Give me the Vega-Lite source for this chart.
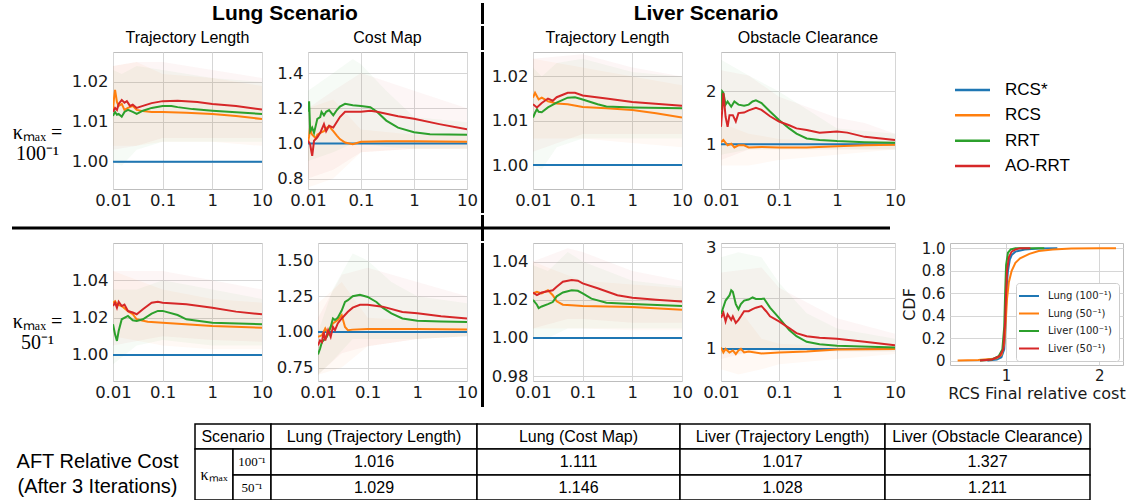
{
"$schema":"https://vega.github.io/schema/vega-lite/v6.json",
"padding":0,
"background":"white",
"config":{
 "view":{"stroke":null},
 "axis":{"labelFont":"DejaVu Sans","labelFontSize":16.5,"labelColor":"#1a1a1a","ticks":false,"domain":false,"gridColor":"#d6d6d6","gridWidth":1,"labelFlush":false,"labelOverlap":false,"labelBound":false},
 "axisX":{"labelPadding":3},
 "axisY":{"labelPadding":5}
},
"datasets":{
"lines":[
{"p":1,"s":"RCS*","x":0.01,"y":1},{"p":1,"s":"RCS*","x":10,"y":1},
{"p":1,"s":"RCS","x":0.01,"y":1.013},{"p":1,"s":"RCS","x":0.0105,"y":1.016},{"p":1,"s":"RCS","x":0.011,"y":1.018},{"p":1,"s":"RCS","x":0.012,"y":1.015},{"p":1,"s":"RCS","x":0.013,"y":1.014},{"p":1,"s":"RCS","x":0.015,"y":1.0145},{"p":1,"s":"RCS","x":0.017,"y":1.013},{"p":1,"s":"RCS","x":0.02,"y":1.0135},{"p":1,"s":"RCS","x":0.025,"y":1.014},{"p":1,"s":"RCS","x":0.03,"y":1.013},{"p":1,"s":"RCS","x":0.04,"y":1.0127},{"p":1,"s":"RCS","x":0.06,"y":1.0125},{"p":1,"s":"RCS","x":0.1,"y":1.0125},{"p":1,"s":"RCS","x":0.3,"y":1.0123},{"p":1,"s":"RCS","x":1,"y":1.012},{"p":1,"s":"RCS","x":3,"y":1.0115},{"p":1,"s":"RCS","x":10,"y":1.0107},
{"p":1,"s":"RRT","x":0.01,"y":1.0115},{"p":1,"s":"RRT","x":0.011,"y":1.0125},{"p":1,"s":"RRT","x":0.012,"y":1.0118},{"p":1,"s":"RRT","x":0.013,"y":1.012},{"p":1,"s":"RRT","x":0.015,"y":1.0113},{"p":1,"s":"RRT","x":0.017,"y":1.0125},{"p":1,"s":"RRT","x":0.02,"y":1.013},{"p":1,"s":"RRT","x":0.025,"y":1.0125},{"p":1,"s":"RRT","x":0.03,"y":1.012},{"p":1,"s":"RRT","x":0.04,"y":1.0128},{"p":1,"s":"RRT","x":0.06,"y":1.0135},{"p":1,"s":"RRT","x":0.1,"y":1.014},{"p":1,"s":"RRT","x":0.15,"y":1.014},{"p":1,"s":"RRT","x":0.2,"y":1.0137},{"p":1,"s":"RRT","x":0.4,"y":1.0132},{"p":1,"s":"RRT","x":1,"y":1.0128},{"p":1,"s":"RRT","x":3,"y":1.0124},{"p":1,"s":"RRT","x":10,"y":1.012},
{"p":1,"s":"AO-RRT","x":0.01,"y":1.0125},{"p":1,"s":"AO-RRT","x":0.011,"y":1.0135},{"p":1,"s":"AO-RRT","x":0.012,"y":1.013},{"p":1,"s":"AO-RRT","x":0.013,"y":1.0145},{"p":1,"s":"AO-RRT","x":0.015,"y":1.0155},{"p":1,"s":"AO-RRT","x":0.017,"y":1.0148},{"p":1,"s":"AO-RRT","x":0.019,"y":1.0152},{"p":1,"s":"AO-RRT","x":0.022,"y":1.014},{"p":1,"s":"AO-RRT","x":0.025,"y":1.0143},{"p":1,"s":"AO-RRT","x":0.03,"y":1.0135},{"p":1,"s":"AO-RRT","x":0.04,"y":1.014},{"p":1,"s":"AO-RRT","x":0.06,"y":1.0147},{"p":1,"s":"AO-RRT","x":0.1,"y":1.0152},{"p":1,"s":"AO-RRT","x":0.2,"y":1.0153},{"p":1,"s":"AO-RRT","x":0.5,"y":1.015},{"p":1,"s":"AO-RRT","x":1,"y":1.0145},{"p":1,"s":"AO-RRT","x":3,"y":1.014},{"p":1,"s":"AO-RRT","x":10,"y":1.0131},
{"p":2,"s":"RCS*","x":0.01,"y":1},{"p":2,"s":"RCS*","x":10,"y":1},
{"p":2,"s":"RCS","x":0.01,"y":1.006},{"p":2,"s":"RCS","x":0.0105,"y":1.04},{"p":2,"s":"RCS","x":0.011,"y":1.1},{"p":2,"s":"RCS","x":0.0115,"y":1.06},{"p":2,"s":"RCS","x":0.012,"y":1.05},{"p":2,"s":"RCS","x":0.014,"y":1.03},{"p":2,"s":"RCS","x":0.015,"y":1.05},{"p":2,"s":"RCS","x":0.017,"y":1.06},{"p":2,"s":"RCS","x":0.02,"y":1.07},{"p":2,"s":"RCS","x":0.022,"y":1.085},{"p":2,"s":"RCS","x":0.025,"y":1.1},{"p":2,"s":"RCS","x":0.028,"y":1.08},{"p":2,"s":"RCS","x":0.03,"y":1.07},{"p":2,"s":"RCS","x":0.035,"y":1.045},{"p":2,"s":"RCS","x":0.04,"y":1.025},{"p":2,"s":"RCS","x":0.05,"y":1.005},{"p":2,"s":"RCS","x":0.07,"y":0.996},{"p":2,"s":"RCS","x":0.1,"y":1.01},{"p":2,"s":"RCS","x":0.3,"y":1.012},{"p":2,"s":"RCS","x":1,"y":1.012},{"p":2,"s":"RCS","x":10,"y":1.01},
{"p":2,"s":"RRT","x":0.01,"y":1.18},{"p":2,"s":"RRT","x":0.0105,"y":1.24},{"p":2,"s":"RRT","x":0.011,"y":1.07},{"p":2,"s":"RRT","x":0.012,"y":1.09},{"p":2,"s":"RRT","x":0.013,"y":1.06},{"p":2,"s":"RRT","x":0.015,"y":1.14},{"p":2,"s":"RRT","x":0.017,"y":1.15},{"p":2,"s":"RRT","x":0.018,"y":1.18},{"p":2,"s":"RRT","x":0.02,"y":1.16},{"p":2,"s":"RRT","x":0.022,"y":1.18},{"p":2,"s":"RRT","x":0.025,"y":1.19},{"p":2,"s":"RRT","x":0.03,"y":1.16},{"p":2,"s":"RRT","x":0.035,"y":1.19},{"p":2,"s":"RRT","x":0.04,"y":1.21},{"p":2,"s":"RRT","x":0.05,"y":1.225},{"p":2,"s":"RRT","x":0.07,"y":1.217},{"p":2,"s":"RRT","x":0.1,"y":1.213},{"p":2,"s":"RRT","x":0.15,"y":1.206},{"p":2,"s":"RRT","x":0.2,"y":1.18},{"p":2,"s":"RRT","x":0.3,"y":1.13},{"p":2,"s":"RRT","x":0.5,"y":1.09},{"p":2,"s":"RRT","x":1,"y":1.064},{"p":2,"s":"RRT","x":2,"y":1.052},{"p":2,"s":"RRT","x":10,"y":1.049},
{"p":2,"s":"AO-RRT","x":0.01,"y":1.015},{"p":2,"s":"AO-RRT","x":0.011,"y":0.995},{"p":2,"s":"AO-RRT","x":0.0115,"y":0.96},{"p":2,"s":"AO-RRT","x":0.012,"y":0.93},{"p":2,"s":"AO-RRT","x":0.013,"y":1.015},{"p":2,"s":"AO-RRT","x":0.015,"y":1.035},{"p":2,"s":"AO-RRT","x":0.017,"y":1.06},{"p":2,"s":"AO-RRT","x":0.02,"y":1.11},{"p":2,"s":"AO-RRT","x":0.022,"y":1.07},{"p":2,"s":"AO-RRT","x":0.025,"y":1.1},{"p":2,"s":"AO-RRT","x":0.03,"y":1.09},{"p":2,"s":"AO-RRT","x":0.04,"y":1.15},{"p":2,"s":"AO-RRT","x":0.05,"y":1.18},{"p":2,"s":"AO-RRT","x":0.1,"y":1.18},{"p":2,"s":"AO-RRT","x":0.15,"y":1.186},{"p":2,"s":"AO-RRT","x":0.2,"y":1.18},{"p":2,"s":"AO-RRT","x":0.5,"y":1.155},{"p":2,"s":"AO-RRT","x":1,"y":1.14},{"p":2,"s":"AO-RRT","x":3,"y":1.11},{"p":2,"s":"AO-RRT","x":10,"y":1.08},
{"p":3,"s":"RCS*","x":0.01,"y":1},{"p":3,"s":"RCS*","x":10,"y":1},
{"p":3,"s":"RCS","x":0.01,"y":1.0152},{"p":3,"s":"RCS","x":0.011,"y":1.0163},{"p":3,"s":"RCS","x":0.012,"y":1.0155},{"p":3,"s":"RCS","x":0.013,"y":1.0148},{"p":3,"s":"RCS","x":0.015,"y":1.0152},{"p":3,"s":"RCS","x":0.02,"y":1.0144},{"p":3,"s":"RCS","x":0.03,"y":1.0139},{"p":3,"s":"RCS","x":0.05,"y":1.0137},{"p":3,"s":"RCS","x":0.1,"y":1.0131},{"p":3,"s":"RCS","x":0.3,"y":1.0128},{"p":3,"s":"RCS","x":1,"y":1.0124},{"p":3,"s":"RCS","x":3,"y":1.0117},{"p":3,"s":"RCS","x":10,"y":1.0107},
{"p":3,"s":"RRT","x":0.01,"y":1.0107},{"p":3,"s":"RRT","x":0.011,"y":1.0118},{"p":3,"s":"RRT","x":0.012,"y":1.0126},{"p":3,"s":"RRT","x":0.013,"y":1.012},{"p":3,"s":"RRT","x":0.015,"y":1.0119},{"p":3,"s":"RRT","x":0.02,"y":1.013},{"p":3,"s":"RRT","x":0.03,"y":1.0141},{"p":3,"s":"RRT","x":0.05,"y":1.0152},{"p":3,"s":"RRT","x":0.07,"y":1.0153},{"p":3,"s":"RRT","x":0.1,"y":1.0148},{"p":3,"s":"RRT","x":0.2,"y":1.0137},{"p":3,"s":"RRT","x":0.3,"y":1.0132},{"p":3,"s":"RRT","x":1,"y":1.013},{"p":3,"s":"RRT","x":10,"y":1.0128},
{"p":3,"s":"AO-RRT","x":0.01,"y":1.0137},{"p":3,"s":"AO-RRT","x":0.012,"y":1.013},{"p":3,"s":"AO-RRT","x":0.015,"y":1.014},{"p":3,"s":"AO-RRT","x":0.02,"y":1.015},{"p":3,"s":"AO-RRT","x":0.025,"y":1.0145},{"p":3,"s":"AO-RRT","x":0.03,"y":1.0153},{"p":3,"s":"AO-RRT","x":0.05,"y":1.0163},{"p":3,"s":"AO-RRT","x":0.07,"y":1.0163},{"p":3,"s":"AO-RRT","x":0.1,"y":1.0157},{"p":3,"s":"AO-RRT","x":0.3,"y":1.015},{"p":3,"s":"AO-RRT","x":1,"y":1.0142},{"p":3,"s":"AO-RRT","x":10,"y":1.0134},
{"p":4,"s":"RCS*","x":0.01,"y":1},{"p":4,"s":"RCS*","x":10,"y":1},
{"p":4,"s":"RCS","x":0.01,"y":1.04},{"p":4,"s":"RCS","x":0.011,"y":1.08},{"p":4,"s":"RCS","x":0.013,"y":0.98},{"p":4,"s":"RCS","x":0.015,"y":1.01},{"p":4,"s":"RCS","x":0.017,"y":0.94},{"p":4,"s":"RCS","x":0.02,"y":0.98},{"p":4,"s":"RCS","x":0.025,"y":0.98},{"p":4,"s":"RCS","x":0.03,"y":0.94},{"p":4,"s":"RCS","x":0.05,"y":0.95},{"p":4,"s":"RCS","x":0.1,"y":0.94},{"p":4,"s":"RCS","x":0.3,"y":0.94},{"p":4,"s":"RCS","x":1,"y":0.96},{"p":4,"s":"RCS","x":3,"y":0.98},{"p":4,"s":"RCS","x":10,"y":0.99},
{"p":4,"s":"RRT","x":0.01,"y":1.65},{"p":4,"s":"RRT","x":0.0105,"y":2.0},{"p":4,"s":"RRT","x":0.011,"y":1.97},{"p":4,"s":"RRT","x":0.012,"y":1.75},{"p":4,"s":"RRT","x":0.013,"y":1.81},{"p":4,"s":"RRT","x":0.015,"y":1.71},{"p":4,"s":"RRT","x":0.017,"y":1.81},{"p":4,"s":"RRT","x":0.02,"y":1.75},{"p":4,"s":"RRT","x":0.025,"y":1.73},{"p":4,"s":"RRT","x":0.03,"y":1.75},{"p":4,"s":"RRT","x":0.035,"y":1.81},{"p":4,"s":"RRT","x":0.04,"y":1.83},{"p":4,"s":"RRT","x":0.05,"y":1.78},{"p":4,"s":"RRT","x":0.07,"y":1.62},{"p":4,"s":"RRT","x":0.1,"y":1.46},{"p":4,"s":"RRT","x":0.15,"y":1.3},{"p":4,"s":"RRT","x":0.2,"y":1.2},{"p":4,"s":"RRT","x":0.3,"y":1.11},{"p":4,"s":"RRT","x":0.5,"y":1.08},{"p":4,"s":"RRT","x":1,"y":1.06},{"p":4,"s":"RRT","x":3,"y":1.04},{"p":4,"s":"RRT","x":10,"y":1.03},
{"p":4,"s":"AO-RRT","x":0.01,"y":1.33},{"p":4,"s":"AO-RRT","x":0.0105,"y":1.65},{"p":4,"s":"AO-RRT","x":0.011,"y":1.97},{"p":4,"s":"AO-RRT","x":0.012,"y":1.52},{"p":4,"s":"AO-RRT","x":0.013,"y":1.33},{"p":4,"s":"AO-RRT","x":0.014,"y":1.55},{"p":4,"s":"AO-RRT","x":0.016,"y":1.55},{"p":4,"s":"AO-RRT","x":0.018,"y":1.43},{"p":4,"s":"AO-RRT","x":0.02,"y":1.59},{"p":4,"s":"AO-RRT","x":0.025,"y":1.6},{"p":4,"s":"AO-RRT","x":0.03,"y":1.64},{"p":4,"s":"AO-RRT","x":0.04,"y":1.69},{"p":4,"s":"AO-RRT","x":0.05,"y":1.65},{"p":4,"s":"AO-RRT","x":0.07,"y":1.53},{"p":4,"s":"AO-RRT","x":0.1,"y":1.43},{"p":4,"s":"AO-RRT","x":0.15,"y":1.36},{"p":4,"s":"AO-RRT","x":0.2,"y":1.3},{"p":4,"s":"AO-RRT","x":0.3,"y":1.27},{"p":4,"s":"AO-RRT","x":0.5,"y":1.22},{"p":4,"s":"AO-RRT","x":1,"y":1.24},{"p":4,"s":"AO-RRT","x":1.5,"y":1.22},{"p":4,"s":"AO-RRT","x":3,"y":1.14},{"p":4,"s":"AO-RRT","x":10,"y":1.08},
{"p":5,"s":"RCS*","x":0.01,"y":1},{"p":5,"s":"RCS*","x":10,"y":1},
{"p":5,"s":"RCS","x":0.01,"y":1.028},{"p":5,"s":"RCS","x":0.011,"y":1.0288},{"p":5,"s":"RCS","x":0.012,"y":1.0271},{"p":5,"s":"RCS","x":0.015,"y":1.0262},{"p":5,"s":"RCS","x":0.02,"y":1.0235},{"p":5,"s":"RCS","x":0.025,"y":1.0218},{"p":5,"s":"RCS","x":0.03,"y":1.0191},{"p":5,"s":"RCS","x":0.05,"y":1.0178},{"p":5,"s":"RCS","x":0.1,"y":1.0173},{"p":5,"s":"RCS","x":1,"y":1.0155},{"p":5,"s":"RCS","x":10,"y":1.0146},
{"p":5,"s":"RRT","x":0.01,"y":1.0164},{"p":5,"s":"RRT","x":0.011,"y":1.011},{"p":5,"s":"RRT","x":0.012,"y":1.0075},{"p":5,"s":"RRT","x":0.013,"y":1.0128},{"p":5,"s":"RRT","x":0.015,"y":1.0191},{"p":5,"s":"RRT","x":0.02,"y":1.0209},{"p":5,"s":"RRT","x":0.025,"y":1.0186},{"p":5,"s":"RRT","x":0.03,"y":1.0182},{"p":5,"s":"RRT","x":0.04,"y":1.0191},{"p":5,"s":"RRT","x":0.06,"y":1.0221},{"p":5,"s":"RRT","x":0.08,"y":1.0236},{"p":5,"s":"RRT","x":0.1,"y":1.0236},{"p":5,"s":"RRT","x":0.2,"y":1.0214},{"p":5,"s":"RRT","x":0.3,"y":1.0191},{"p":5,"s":"RRT","x":1,"y":1.0173},{"p":5,"s":"RRT","x":10,"y":1.0164},
{"p":5,"s":"AO-RRT","x":0.01,"y":1.0262},{"p":5,"s":"AO-RRT","x":0.011,"y":1.028},{"p":5,"s":"AO-RRT","x":0.012,"y":1.0253},{"p":5,"s":"AO-RRT","x":0.013,"y":1.0285},{"p":5,"s":"AO-RRT","x":0.015,"y":1.0262},{"p":5,"s":"AO-RRT","x":0.017,"y":1.027},{"p":5,"s":"AO-RRT","x":0.02,"y":1.0235},{"p":5,"s":"AO-RRT","x":0.025,"y":1.0227},{"p":5,"s":"AO-RRT","x":0.03,"y":1.0218},{"p":5,"s":"AO-RRT","x":0.04,"y":1.0245},{"p":5,"s":"AO-RRT","x":0.06,"y":1.028},{"p":5,"s":"AO-RRT","x":0.08,"y":1.0285},{"p":5,"s":"AO-RRT","x":0.1,"y":1.028},{"p":5,"s":"AO-RRT","x":0.3,"y":1.0271},{"p":5,"s":"AO-RRT","x":1,"y":1.0253},{"p":5,"s":"AO-RRT","x":3,"y":1.0232},{"p":5,"s":"AO-RRT","x":10,"y":1.0218},
{"p":6,"s":"RCS*","x":0.01,"y":1},{"p":6,"s":"RCS*","x":10,"y":1},
{"p":6,"s":"RCS","x":0.01,"y":0.965},{"p":6,"s":"RCS","x":0.012,"y":0.976},{"p":6,"s":"RCS","x":0.014,"y":1.024},{"p":6,"s":"RCS","x":0.016,"y":0.988},{"p":6,"s":"RCS","x":0.018,"y":1.035},{"p":6,"s":"RCS","x":0.02,"y":1.059},{"p":6,"s":"RCS","x":0.025,"y":1.083},{"p":6,"s":"RCS","x":0.03,"y":1.118},{"p":6,"s":"RCS","x":0.035,"y":1.035},{"p":6,"s":"RCS","x":0.04,"y":1.012},{"p":6,"s":"RCS","x":0.05,"y":1.016},{"p":6,"s":"RCS","x":0.1,"y":1.021},{"p":6,"s":"RCS","x":1,"y":1.021},{"p":6,"s":"RCS","x":10,"y":1.016},
{"p":6,"s":"RRT","x":0.01,"y":0.842},{"p":6,"s":"RRT","x":0.011,"y":0.882},{"p":6,"s":"RRT","x":0.012,"y":0.929},{"p":6,"s":"RRT","x":0.015,"y":0.965},{"p":6,"s":"RRT","x":0.018,"y":1.035},{"p":6,"s":"RRT","x":0.02,"y":1.094},{"p":6,"s":"RRT","x":0.022,"y":1.083},{"p":6,"s":"RRT","x":0.025,"y":1.1},{"p":6,"s":"RRT","x":0.03,"y":1.15},{"p":6,"s":"RRT","x":0.035,"y":1.21},{"p":6,"s":"RRT","x":0.04,"y":1.222},{"p":6,"s":"RRT","x":0.05,"y":1.25},{"p":6,"s":"RRT","x":0.07,"y":1.26},{"p":6,"s":"RRT","x":0.1,"y":1.245},{"p":6,"s":"RRT","x":0.15,"y":1.21},{"p":6,"s":"RRT","x":0.2,"y":1.17},{"p":6,"s":"RRT","x":0.3,"y":1.13},{"p":6,"s":"RRT","x":0.5,"y":1.094},{"p":6,"s":"RRT","x":1,"y":1.078},{"p":6,"s":"RRT","x":3,"y":1.073},{"p":6,"s":"RRT","x":10,"y":1.07},
{"p":6,"s":"AO-RRT","x":0.01,"y":0.905},{"p":6,"s":"AO-RRT","x":0.011,"y":0.94},{"p":6,"s":"AO-RRT","x":0.012,"y":0.929},{"p":6,"s":"AO-RRT","x":0.013,"y":1.0},{"p":6,"s":"AO-RRT","x":0.014,"y":0.94},{"p":6,"s":"AO-RRT","x":0.016,"y":1.012},{"p":6,"s":"AO-RRT","x":0.018,"y":0.965},{"p":6,"s":"AO-RRT","x":0.02,"y":1.035},{"p":6,"s":"AO-RRT","x":0.022,"y":1.012},{"p":6,"s":"AO-RRT","x":0.025,"y":1.059},{"p":6,"s":"AO-RRT","x":0.03,"y":1.094},{"p":6,"s":"AO-RRT","x":0.04,"y":1.141},{"p":6,"s":"AO-RRT","x":0.05,"y":1.17},{"p":6,"s":"AO-RRT","x":0.07,"y":1.19},{"p":6,"s":"AO-RRT","x":0.1,"y":1.19},{"p":6,"s":"AO-RRT","x":0.2,"y":1.177},{"p":6,"s":"AO-RRT","x":0.5,"y":1.14},{"p":6,"s":"AO-RRT","x":1,"y":1.13},{"p":6,"s":"AO-RRT","x":3,"y":1.11},{"p":6,"s":"AO-RRT","x":10,"y":1.094},
{"p":7,"s":"RCS*","x":0.01,"y":1},{"p":7,"s":"RCS*","x":10,"y":1},
{"p":7,"s":"RCS","x":0.01,"y":1.0233},{"p":7,"s":"RCS","x":0.012,"y":1.0242},{"p":7,"s":"RCS","x":0.015,"y":1.0233},{"p":7,"s":"RCS","x":0.02,"y":1.025},{"p":7,"s":"RCS","x":0.025,"y":1.0224},{"p":7,"s":"RCS","x":0.03,"y":1.0192},{"p":7,"s":"RCS","x":0.04,"y":1.0174},{"p":7,"s":"RCS","x":0.06,"y":1.0171},{"p":7,"s":"RCS","x":0.1,"y":1.0167},{"p":7,"s":"RCS","x":1,"y":1.0162},{"p":7,"s":"RCS","x":10,"y":1.0148},
{"p":7,"s":"RRT","x":0.01,"y":1.02},{"p":7,"s":"RRT","x":0.012,"y":1.0174},{"p":7,"s":"RRT","x":0.013,"y":1.0156},{"p":7,"s":"RRT","x":0.015,"y":1.0165},{"p":7,"s":"RRT","x":0.02,"y":1.0177},{"p":7,"s":"RRT","x":0.025,"y":1.0188},{"p":7,"s":"RRT","x":0.03,"y":1.0218},{"p":7,"s":"RRT","x":0.04,"y":1.0238},{"p":7,"s":"RRT","x":0.06,"y":1.025},{"p":7,"s":"RRT","x":0.08,"y":1.0247},{"p":7,"s":"RRT","x":0.1,"y":1.0233},{"p":7,"s":"RRT","x":0.15,"y":1.0206},{"p":7,"s":"RRT","x":0.3,"y":1.0185},{"p":7,"s":"RRT","x":1,"y":1.0178},{"p":7,"s":"RRT","x":10,"y":1.0167},
{"p":7,"s":"AO-RRT","x":0.01,"y":1.0238},{"p":7,"s":"AO-RRT","x":0.012,"y":1.0224},{"p":7,"s":"AO-RRT","x":0.015,"y":1.0238},{"p":7,"s":"AO-RRT","x":0.02,"y":1.0245},{"p":7,"s":"AO-RRT","x":0.025,"y":1.025},{"p":7,"s":"AO-RRT","x":0.03,"y":1.0268},{"p":7,"s":"AO-RRT","x":0.04,"y":1.0294},{"p":7,"s":"AO-RRT","x":0.06,"y":1.0303},{"p":7,"s":"AO-RRT","x":0.08,"y":1.03},{"p":7,"s":"AO-RRT","x":0.1,"y":1.0286},{"p":7,"s":"AO-RRT","x":0.2,"y":1.026},{"p":7,"s":"AO-RRT","x":0.5,"y":1.0224},{"p":7,"s":"AO-RRT","x":1,"y":1.021},{"p":7,"s":"AO-RRT","x":3,"y":1.02},{"p":7,"s":"AO-RRT","x":10,"y":1.0191},
{"p":8,"s":"RCS*","x":0.01,"y":1},{"p":8,"s":"RCS*","x":10,"y":1},
{"p":8,"s":"RCS","x":0.01,"y":1.03},{"p":8,"s":"RCS","x":0.011,"y":0.93},{"p":8,"s":"RCS","x":0.012,"y":1.0},{"p":8,"s":"RCS","x":0.014,"y":0.93},{"p":8,"s":"RCS","x":0.016,"y":0.97},{"p":8,"s":"RCS","x":0.018,"y":0.9},{"p":8,"s":"RCS","x":0.02,"y":0.97},{"p":8,"s":"RCS","x":0.022,"y":1.0},{"p":8,"s":"RCS","x":0.025,"y":0.93},{"p":8,"s":"RCS","x":0.03,"y":0.95},{"p":8,"s":"RCS","x":0.05,"y":0.91},{"p":8,"s":"RCS","x":0.1,"y":0.93},{"p":8,"s":"RCS","x":0.3,"y":0.95},{"p":8,"s":"RCS","x":1,"y":0.99},{"p":8,"s":"RCS","x":10,"y":1.0},
{"p":8,"s":"RRT","x":0.01,"y":1.68},{"p":8,"s":"RRT","x":0.012,"y":1.95},{"p":8,"s":"RRT","x":0.014,"y":2.05},{"p":8,"s":"RRT","x":0.015,"y":2.15},{"p":8,"s":"RRT","x":0.016,"y":2.12},{"p":8,"s":"RRT","x":0.018,"y":1.88},{"p":8,"s":"RRT","x":0.02,"y":1.78},{"p":8,"s":"RRT","x":0.022,"y":1.88},{"p":8,"s":"RRT","x":0.025,"y":1.95},{"p":8,"s":"RRT","x":0.03,"y":1.97},{"p":8,"s":"RRT","x":0.035,"y":2.01},{"p":8,"s":"RRT","x":0.04,"y":1.98},{"p":8,"s":"RRT","x":0.05,"y":1.98},{"p":8,"s":"RRT","x":0.055,"y":1.99},{"p":8,"s":"RRT","x":0.07,"y":1.81},{"p":8,"s":"RRT","x":0.1,"y":1.61},{"p":8,"s":"RRT","x":0.15,"y":1.37},{"p":8,"s":"RRT","x":0.2,"y":1.25},{"p":8,"s":"RRT","x":0.3,"y":1.14},{"p":8,"s":"RRT","x":0.5,"y":1.09},{"p":8,"s":"RRT","x":1,"y":1.06},{"p":8,"s":"RRT","x":10,"y":1.03},
{"p":8,"s":"AO-RRT","x":0.01,"y":1.61},{"p":8,"s":"AO-RRT","x":0.011,"y":1.71},{"p":8,"s":"AO-RRT","x":0.012,"y":1.54},{"p":8,"s":"AO-RRT","x":0.013,"y":1.68},{"p":8,"s":"AO-RRT","x":0.015,"y":1.57},{"p":8,"s":"AO-RRT","x":0.016,"y":1.64},{"p":8,"s":"AO-RRT","x":0.018,"y":1.51},{"p":8,"s":"AO-RRT","x":0.02,"y":1.57},{"p":8,"s":"AO-RRT","x":0.022,"y":1.64},{"p":8,"s":"AO-RRT","x":0.025,"y":1.74},{"p":8,"s":"AO-RRT","x":0.03,"y":1.74},{"p":8,"s":"AO-RRT","x":0.035,"y":1.78},{"p":8,"s":"AO-RRT","x":0.04,"y":1.81},{"p":8,"s":"AO-RRT","x":0.05,"y":1.84},{"p":8,"s":"AO-RRT","x":0.06,"y":1.74},{"p":8,"s":"AO-RRT","x":0.07,"y":1.64},{"p":8,"s":"AO-RRT","x":0.1,"y":1.54},{"p":8,"s":"AO-RRT","x":0.15,"y":1.41},{"p":8,"s":"AO-RRT","x":0.2,"y":1.31},{"p":8,"s":"AO-RRT","x":0.3,"y":1.25},{"p":8,"s":"AO-RRT","x":0.5,"y":1.22},{"p":8,"s":"AO-RRT","x":1,"y":1.2},{"p":8,"s":"AO-RRT","x":3,"y":1.14},{"p":8,"s":"AO-RRT","x":10,"y":1.07}
],
"bands":[
{"p":1,"g":"RCS","x":0.01,"lo":1.004,"hi":1.024},{"p":1,"g":"RCS","x":0.03,"lo":1.004,"hi":1.025},{"p":1,"g":"RCS","x":0.1,"lo":1.005,"hi":1.022},{"p":1,"g":"RCS","x":1,"lo":1.005,"hi":1.021},{"p":1,"g":"RCS","x":10,"lo":1.004,"hi":1.019},
{"p":1,"g":"RRT","x":0.01,"lo":1.0,"hi":1.023},{"p":1,"g":"RRT","x":0.015,"lo":0.999,"hi":1.022},{"p":1,"g":"RRT","x":0.03,"lo":1.003,"hi":1.024},{"p":1,"g":"RRT","x":0.1,"lo":1.005,"hi":1.023},{"p":1,"g":"RRT","x":1,"lo":1.005,"hi":1.021},{"p":1,"g":"RRT","x":10,"lo":1.005,"hi":1.02},
{"p":1,"g":"AO-RRT","x":0.01,"lo":1.003,"hi":1.024},{"p":1,"g":"AO-RRT","x":0.03,"lo":1.004,"hi":1.025},{"p":1,"g":"AO-RRT","x":0.1,"lo":1.006,"hi":1.025},{"p":1,"g":"AO-RRT","x":1,"lo":1.006,"hi":1.023},{"p":1,"g":"AO-RRT","x":10,"lo":1.006,"hi":1.021},
{"p":2,"g":"RCS","x":0.01,"lo":0.75,"hi":1.2},{"p":2,"g":"RCS","x":0.03,"lo":0.8,"hi":1.25},{"p":2,"g":"RCS","x":0.1,"lo":0.95,"hi":1.08},{"p":2,"g":"RCS","x":1,"lo":0.97,"hi":1.05},{"p":2,"g":"RCS","x":10,"lo":0.97,"hi":1.05},
{"p":2,"g":"RRT","x":0.01,"lo":0.9,"hi":1.3},{"p":2,"g":"RRT","x":0.03,"lo":0.95,"hi":1.4},{"p":2,"g":"RRT","x":0.07,"lo":1.0,"hi":1.48},{"p":2,"g":"RRT","x":0.1,"lo":1.0,"hi":1.45},{"p":2,"g":"RRT","x":0.3,"lo":0.98,"hi":1.3},{"p":2,"g":"RRT","x":1,"lo":0.97,"hi":1.15},{"p":2,"g":"RRT","x":10,"lo":0.97,"hi":1.12},
{"p":2,"g":"AO-RRT","x":0.01,"lo":0.8,"hi":1.2},{"p":2,"g":"AO-RRT","x":0.03,"lo":0.85,"hi":1.3},{"p":2,"g":"AO-RRT","x":0.1,"lo":0.95,"hi":1.4},{"p":2,"g":"AO-RRT","x":1,"lo":0.97,"hi":1.3},{"p":2,"g":"AO-RRT","x":10,"lo":0.97,"hi":1.2},
{"p":3,"g":"RCS","x":0.01,"lo":1.006,"hi":1.024},{"p":3,"g":"RCS","x":0.1,"lo":1.006,"hi":1.022},{"p":3,"g":"RCS","x":1,"lo":1.005,"hi":1.02},{"p":3,"g":"RCS","x":10,"lo":1.004,"hi":1.018},
{"p":3,"g":"RRT","x":0.01,"lo":1.0,"hi":1.022},{"p":3,"g":"RRT","x":0.015,"lo":0.999,"hi":1.02},{"p":3,"g":"RRT","x":0.03,"lo":1.004,"hi":1.023},{"p":3,"g":"RRT","x":0.1,"lo":1.006,"hi":1.024},{"p":3,"g":"RRT","x":1,"lo":1.006,"hi":1.021},{"p":3,"g":"RRT","x":10,"lo":1.006,"hi":1.02},
{"p":3,"g":"AO-RRT","x":0.01,"lo":1.003,"hi":1.024},{"p":3,"g":"AO-RRT","x":0.1,"lo":1.007,"hi":1.025},{"p":3,"g":"AO-RRT","x":1,"lo":1.007,"hi":1.022},{"p":3,"g":"AO-RRT","x":10,"lo":1.007,"hi":1.02},
{"p":4,"g":"RCS","x":0.01,"lo":0.6,"hi":1.4},{"p":4,"g":"RCS","x":0.03,"lo":0.6,"hi":1.2},{"p":4,"g":"RCS","x":0.1,"lo":0.7,"hi":1.1},{"p":4,"g":"RCS","x":1,"lo":0.8,"hi":1.05},{"p":4,"g":"RCS","x":10,"lo":0.9,"hi":1.05},
{"p":4,"g":"RRT","x":0.01,"lo":0.8,"hi":2.6},{"p":4,"g":"RRT","x":0.03,"lo":0.9,"hi":2.3},{"p":4,"g":"RRT","x":0.1,"lo":0.9,"hi":2.0},{"p":4,"g":"RRT","x":1,"lo":0.9,"hi":1.3},{"p":4,"g":"RRT","x":10,"lo":0.9,"hi":1.2},
{"p":4,"g":"AO-RRT","x":0.01,"lo":0.7,"hi":2.4},{"p":4,"g":"AO-RRT","x":0.03,"lo":0.9,"hi":2.3},{"p":4,"g":"AO-RRT","x":0.1,"lo":0.9,"hi":1.9},{"p":4,"g":"AO-RRT","x":1,"lo":0.9,"hi":1.5},{"p":4,"g":"AO-RRT","x":3,"lo":0.9,"hi":1.4},{"p":4,"g":"AO-RRT","x":10,"lo":0.9,"hi":1.2},
{"p":5,"g":"RCS","x":0.01,"lo":1.01,"hi":1.045},{"p":5,"g":"RCS","x":0.1,"lo":1.005,"hi":1.035},{"p":5,"g":"RCS","x":1,"lo":1.003,"hi":1.03},{"p":5,"g":"RCS","x":10,"lo":1.003,"hi":1.028},
{"p":5,"g":"RRT","x":0.01,"lo":0.995,"hi":1.035},{"p":5,"g":"RRT","x":0.03,"lo":1.005,"hi":1.035},{"p":5,"g":"RRT","x":0.1,"lo":1.008,"hi":1.04},{"p":5,"g":"RRT","x":1,"lo":1.005,"hi":1.035},{"p":5,"g":"RRT","x":10,"lo":1.005,"hi":1.03},
{"p":5,"g":"AO-RRT","x":0.01,"lo":1.005,"hi":1.045},{"p":5,"g":"AO-RRT","x":0.1,"lo":1.01,"hi":1.045},{"p":5,"g":"AO-RRT","x":1,"lo":1.008,"hi":1.04},{"p":5,"g":"AO-RRT","x":10,"lo":1.007,"hi":1.035},
{"p":6,"g":"RCS","x":0.01,"lo":0.7,"hi":1.2},{"p":6,"g":"RCS","x":0.03,"lo":0.75,"hi":1.35},{"p":6,"g":"RCS","x":0.1,"lo":0.9,"hi":1.1},{"p":6,"g":"RCS","x":1,"lo":0.95,"hi":1.08},{"p":6,"g":"RCS","x":10,"lo":0.97,"hi":1.06},
{"p":6,"g":"RRT","x":0.01,"lo":0.7,"hi":1.0},{"p":6,"g":"RRT","x":0.02,"lo":0.8,"hi":1.3},{"p":6,"g":"RRT","x":0.05,"lo":0.95,"hi":1.55},{"p":6,"g":"RRT","x":0.1,"lo":0.95,"hi":1.5},{"p":6,"g":"RRT","x":0.3,"lo":0.95,"hi":1.35},{"p":6,"g":"RRT","x":1,"lo":0.95,"hi":1.25},{"p":6,"g":"RRT","x":10,"lo":0.97,"hi":1.2},
{"p":6,"g":"AO-RRT","x":0.01,"lo":0.7,"hi":1.1},{"p":6,"g":"AO-RRT","x":0.03,"lo":0.85,"hi":1.4},{"p":6,"g":"AO-RRT","x":0.1,"lo":0.9,"hi":1.45},{"p":6,"g":"AO-RRT","x":1,"lo":0.95,"hi":1.35},{"p":6,"g":"AO-RRT","x":10,"lo":0.97,"hi":1.25},
{"p":7,"g":"RCS","x":0.01,"lo":1.005,"hi":1.04},{"p":7,"g":"RCS","x":0.03,"lo":1.005,"hi":1.035},{"p":7,"g":"RCS","x":0.1,"lo":1.005,"hi":1.03},{"p":7,"g":"RCS","x":1,"lo":1.004,"hi":1.028},{"p":7,"g":"RCS","x":10,"lo":1.004,"hi":1.026},
{"p":7,"g":"RRT","x":0.01,"lo":1.0,"hi":1.038},{"p":7,"g":"RRT","x":0.02,"lo":1.0,"hi":1.035},{"p":7,"g":"RRT","x":0.05,"lo":1.005,"hi":1.045},{"p":7,"g":"RRT","x":0.1,"lo":1.005,"hi":1.04},{"p":7,"g":"RRT","x":1,"lo":1.005,"hi":1.03},{"p":7,"g":"RRT","x":10,"lo":1.005,"hi":1.027},
{"p":7,"g":"AO-RRT","x":0.01,"lo":1.005,"hi":1.04},{"p":7,"g":"AO-RRT","x":0.05,"lo":1.01,"hi":1.047},{"p":7,"g":"AO-RRT","x":0.1,"lo":1.01,"hi":1.045},{"p":7,"g":"AO-RRT","x":1,"lo":1.008,"hi":1.035},{"p":7,"g":"AO-RRT","x":10,"lo":1.008,"hi":1.03},
{"p":8,"g":"RCS","x":0.01,"lo":0.6,"hi":1.5},{"p":8,"g":"RCS","x":0.02,"lo":0.5,"hi":1.8},{"p":8,"g":"RCS","x":0.05,"lo":0.6,"hi":1.2},{"p":8,"g":"RCS","x":0.1,"lo":0.7,"hi":1.1},{"p":8,"g":"RCS","x":1,"lo":0.8,"hi":1.05},{"p":8,"g":"RCS","x":10,"lo":0.9,"hi":1.05},
{"p":8,"g":"RRT","x":0.01,"lo":0.9,"hi":2.8},{"p":8,"g":"RRT","x":0.02,"lo":0.9,"hi":2.9},{"p":8,"g":"RRT","x":0.05,"lo":1.0,"hi":2.8},{"p":8,"g":"RRT","x":0.1,"lo":0.95,"hi":2.3},{"p":8,"g":"RRT","x":0.3,"lo":0.95,"hi":1.7},{"p":8,"g":"RRT","x":1,"lo":0.95,"hi":1.4},{"p":8,"g":"RRT","x":10,"lo":0.95,"hi":1.2},
{"p":8,"g":"AO-RRT","x":0.01,"lo":0.8,"hi":2.5},{"p":8,"g":"AO-RRT","x":0.05,"lo":1.0,"hi":2.6},{"p":8,"g":"AO-RRT","x":0.1,"lo":0.95,"hi":2.2},{"p":8,"g":"AO-RRT","x":1,"lo":0.95,"hi":1.6},{"p":8,"g":"AO-RRT","x":10,"lo":0.95,"hi":1.3}
],
"cdf":[
{"s":"Lung (100⁻¹)","x":0.8,"y":0},{"s":"Lung (100⁻¹)","x":0.9,"y":0.01},{"s":"Lung (100⁻¹)","x":0.95,"y":0.03},{"s":"Lung (100⁻¹)","x":0.98,"y":0.1},{"s":"Lung (100⁻¹)","x":0.99,"y":0.25},{"s":"Lung (100⁻¹)","x":1.0,"y":0.5},{"s":"Lung (100⁻¹)","x":1.01,"y":0.7},{"s":"Lung (100⁻¹)","x":1.02,"y":0.8},{"s":"Lung (100⁻¹)","x":1.04,"y":0.9},{"s":"Lung (100⁻¹)","x":1.06,"y":0.94},{"s":"Lung (100⁻¹)","x":1.1,"y":0.97},{"s":"Lung (100⁻¹)","x":1.2,"y":0.99},{"s":"Lung (100⁻¹)","x":1.35,"y":0.998},{"s":"Lung (100⁻¹)","x":1.55,"y":1.0},
{"s":"Lung (50⁻¹)","x":0.48,"y":0},{"s":"Lung (50⁻¹)","x":0.7,"y":0.005},{"s":"Lung (50⁻¹)","x":0.9,"y":0.02},{"s":"Lung (50⁻¹)","x":0.95,"y":0.05},{"s":"Lung (50⁻¹)","x":0.98,"y":0.15},{"s":"Lung (50⁻¹)","x":1.0,"y":0.4},{"s":"Lung (50⁻¹)","x":1.01,"y":0.55},{"s":"Lung (50⁻¹)","x":1.03,"y":0.7},{"s":"Lung (50⁻¹)","x":1.06,"y":0.8},{"s":"Lung (50⁻¹)","x":1.1,"y":0.87},{"s":"Lung (50⁻¹)","x":1.15,"y":0.91},{"s":"Lung (50⁻¹)","x":1.25,"y":0.95},{"s":"Lung (50⁻¹)","x":1.35,"y":0.975},{"s":"Lung (50⁻¹)","x":1.5,"y":0.99},{"s":"Lung (50⁻¹)","x":1.7,"y":0.998},{"s":"Lung (50⁻¹)","x":2.0,"y":1.0},{"s":"Lung (50⁻¹)","x":2.18,"y":1.0},
{"s":"Liver (100⁻¹)","x":0.72,"y":0},{"s":"Liver (100⁻¹)","x":0.85,"y":0.01},{"s":"Liver (100⁻¹)","x":0.92,"y":0.04},{"s":"Liver (100⁻¹)","x":0.96,"y":0.1},{"s":"Liver (100⁻¹)","x":0.98,"y":0.3},{"s":"Liver (100⁻¹)","x":0.99,"y":0.6},{"s":"Liver (100⁻¹)","x":1.0,"y":0.85},{"s":"Liver (100⁻¹)","x":1.02,"y":0.96},{"s":"Liver (100⁻¹)","x":1.05,"y":0.99},{"s":"Liver (100⁻¹)","x":1.1,"y":1.0},{"s":"Liver (100⁻¹)","x":1.41,"y":1.0},
{"s":"Liver (50⁻¹)","x":0.72,"y":0},{"s":"Liver (50⁻¹)","x":0.85,"y":0.01},{"s":"Liver (50⁻¹)","x":0.93,"y":0.04},{"s":"Liver (50⁻¹)","x":0.97,"y":0.1},{"s":"Liver (50⁻¹)","x":0.99,"y":0.35},{"s":"Liver (50⁻¹)","x":1.0,"y":0.6},{"s":"Liver (50⁻¹)","x":1.01,"y":0.8},{"s":"Liver (50⁻¹)","x":1.03,"y":0.92},{"s":"Liver (50⁻¹)","x":1.06,"y":0.97},{"s":"Liver (50⁻¹)","x":1.1,"y":0.99},{"s":"Liver (50⁻¹)","x":1.15,"y":1.0},{"s":"Liver (50⁻¹)","x":1.26,"y":1.0}
],
"legend":[{"s":"RCS*"},{"s":"RCS"},{"s":"RRT"},{"s":"AO-RRT"}],
"table":[
{"k":"L","c0":-1,"c1":0,"r0":0,"r1":3,"t":["AFT Relative Cost","(After 3 Iterations)"]},
{"k":"s","c0":0,"c1":2,"r0":0,"r1":1,"t":"Scenario"},
{"k":"s","c0":2,"c1":3,"r0":0,"r1":1,"t":"Lung (Trajectory Length)"},
{"k":"s","c0":3,"c1":4,"r0":0,"r1":1,"t":"Lung (Cost Map)"},
{"k":"s","c0":4,"c1":5,"r0":0,"r1":1,"t":"Liver (Trajectory Length)"},
{"k":"s","c0":5,"c1":6,"r0":0,"r1":1,"t":"Liver (Obstacle Clearance)"},
{"k":"k","c0":0,"c1":1,"r0":1,"r1":3,"t":"κₘₐₓ"},
{"k":"n","c0":1,"c1":2,"r0":1,"r1":2,"t":"100⁻¹"},
{"k":"n","c0":1,"c1":2,"r0":2,"r1":3,"t":"50⁻¹"},
{"k":"s","c0":2,"c1":3,"r0":1,"r1":2,"t":"1.016"},
{"k":"s","c0":3,"c1":4,"r0":1,"r1":2,"t":"1.111"},
{"k":"s","c0":4,"c1":5,"r0":1,"r1":2,"t":"1.017"},
{"k":"s","c0":5,"c1":6,"r0":1,"r1":2,"t":"1.327"},
{"k":"s","c0":2,"c1":3,"r0":2,"r1":3,"t":"1.029"},
{"k":"s","c0":3,"c1":4,"r0":2,"r1":3,"t":"1.146"},
{"k":"s","c0":4,"c1":5,"r0":2,"r1":3,"t":"1.028"},
{"k":"s","c0":5,"c1":6,"r0":2,"r1":3,"t":"1.211"}
]
},
"spacing":-6,
"vconcat":[
{"hconcat":[
 {"width":113,"height":24,"data":{"values":[{}]},"mark":{"type":"rule","opacity":0},"encoding":{"x":{"datum":0,"type":"quantitative","scale":{"domain":[0,1]},"axis":null},"y":{"datum":0,"type":"quantitative","scale":{"domain":[0,1]},"axis":null},"y2":{"datum":1}}},
 {"width":344,"height":24,"data":{"values":[{"t":"Lung Scenario"}]},"mark":{"type":"text","font":"Liberation Sans","fontSize":21,"fontWeight":"bold","dy":2},"encoding":{"text":{"field":"t","type":"nominal"}}},
 {"width":25,"height":1,"data":{"values":[]},"mark":"text"},
 {"width":1,"height":24,"data":{"values":[{}]},"mark":{"type":"rule","color":"black","strokeWidth":3},"encoding":{"y":{"datum":0,"type":"quantitative","scale":{"domain":[0,1],"nice":false},"axis":null},"y2":{"datum":0.875}}},
 {"width":446,"height":24,"data":{"values":[{"t":"Liver Scenario"}]},"mark":{"type":"text","font":"Liberation Sans","fontSize":21,"fontWeight":"bold","dy":2},"encoding":{"text":{"field":"t","type":"nominal"}}}
],"spacing":0,"bounds":"flush"},
{"hconcat":[
 {"width":113,"height":24,"data":{"values":[{}]},"mark":{"type":"rule","opacity":0},"encoding":{"x":{"datum":0,"type":"quantitative","scale":{"domain":[0,1]},"axis":null},"y":{"datum":0,"type":"quantitative","scale":{"domain":[0,1]},"axis":null},"y2":{"datum":1}}},
 {"width":149,"height":24,"data":{"values":[{"t":"Trajectory Length"}]},"mark":{"type":"text","font":"Liberation Sans","fontSize":16},"encoding":{"text":{"field":"t","type":"nominal"}}},
 {"width":46,"height":1,"data":{"values":[]},"mark":"text"},
 {"width":159,"height":24,"data":{"values":[{"t":"Cost Map"}]},"mark":{"type":"text","font":"Liberation Sans","fontSize":16},"encoding":{"text":{"field":"t","type":"nominal"}}},
 {"width":15,"height":1,"data":{"values":[]},"mark":"text"},
 {"width":1,"height":24,"data":{"values":[{}]},"mark":{"type":"rule","color":"black","strokeWidth":3},"encoding":{"y":{"datum":0,"type":"quantitative","scale":{"domain":[0,1],"nice":false},"axis":null},"y2":{"datum":1}}},
 {"width":50,"height":1,"data":{"values":[]},"mark":"text"},
 {"width":149,"height":24,"data":{"values":[{"t":"Trajectory Length"}]},"mark":{"type":"text","font":"Liberation Sans","fontSize":16},"encoding":{"text":{"field":"t","type":"nominal"}}},
 {"width":39,"height":1,"data":{"values":[]},"mark":"text"},
 {"width":174,"height":24,"data":{"values":[{"t":"Obstacle Clearance"}]},"mark":{"type":"text","font":"Liberation Sans","fontSize":16},"encoding":{"text":{"field":"t","type":"nominal"}}}
],"spacing":0,"bounds":"flush"},
{"hconcat":[
 {"width":113,"height":161,"layer":[
  {"data":{"values":[{}]},"mark":{"type":"rule","opacity":0},"encoding":{"x":{"datum":0,"type":"quantitative","scale":{"domain":[0,1]},"axis":null},"y":{"datum":0,"type":"quantitative","scale":{"domain":[0,1]},"axis":null},"y2":{"datum":1}}},
  {"data":{"values":[{"t":["κₘₐₓ =","100⁻¹"]}]},"mark":{"type":"text","font":"Liberation Serif","fontSize":20,"lineHeight":21,"dx":-19},"encoding":{"text":{"field":"t","type":"nominal"}}}
 ]},
 {"width":149,"height":137,"view":{"stroke":"#bdbdbd"},"layer":[
  {"data":{"name":"bands"},"transform":[{"filter":"datum.p==1"}],"mark":{"type":"area","opacity":0.045,"clip":true},"encoding":{"x":{"field":"x","type":"quantitative","title":null,"scale":{"type":"log","domain":[0.01,10]},"axis":{"values":[0.01,0.1,1,10],"format":"~g"}},"y":{"field":"lo","type":"quantitative","title":null,"scale":{"domain":[0.9932,1.0275],"nice":false,"zero":false},"axis":{"values":[1,1.01,1.02],"format":".2f"}},"y2":{"field":"hi"},"fill":{"field":"g","type":"nominal","scale":{"domain":["RCS*","RCS","RRT","AO-RRT"],"range":["#1f77b4","#ff7f0e","#2ca02c","#d62728"]},"legend":null}}},
  {"data":{"name":"lines"},"transform":[{"filter":"datum.p==1"}],"mark":{"type":"line","strokeWidth":2,"clip":true},"encoding":{"x":{"field":"x","type":"quantitative","title":null},"y":{"field":"y","type":"quantitative","title":null},"color":{"field":"s","type":"nominal","scale":{"domain":["RCS*","RCS","RRT","AO-RRT"],"range":["#1f77b4","#ff7f0e","#2ca02c","#d62728"]},"legend":null}}}
 ]},
 {"width":46,"height":1,"data":{"values":[]},"mark":"text"},
 {"width":159,"height":137,"view":{"stroke":"#bdbdbd"},"layer":[
  {"data":{"name":"bands"},"transform":[{"filter":"datum.p==2"}],"mark":{"type":"area","opacity":0.045,"clip":true},"encoding":{"x":{"field":"x","type":"quantitative","title":null,"scale":{"type":"log","domain":[0.01,10]},"axis":{"values":[0.01,0.1,1,10],"format":"~g"}},"y":{"field":"lo","type":"quantitative","title":null,"scale":{"domain":[0.741,1.52],"nice":false,"zero":false},"axis":{"values":[0.8,1.0,1.2,1.4],"format":".1f"}},"y2":{"field":"hi"},"fill":{"field":"g","type":"nominal","scale":{"domain":["RCS*","RCS","RRT","AO-RRT"],"range":["#1f77b4","#ff7f0e","#2ca02c","#d62728"]},"legend":null}}},
  {"data":{"name":"lines"},"transform":[{"filter":"datum.p==2"}],"mark":{"type":"line","strokeWidth":2,"clip":true},"encoding":{"x":{"field":"x","type":"quantitative","title":null},"y":{"field":"y","type":"quantitative","title":null},"color":{"field":"s","type":"nominal","scale":{"domain":["RCS*","RCS","RRT","AO-RRT"],"range":["#1f77b4","#ff7f0e","#2ca02c","#d62728"]},"legend":null}}}
 ]},
 {"width":15,"height":1,"data":{"values":[]},"mark":"text"},
 {"width":1,"height":161,"data":{"values":[{}]},"mark":{"type":"rule","color":"black","strokeWidth":3},"encoding":{"y":{"datum":0,"type":"quantitative","scale":{"domain":[0,1],"nice":false},"axis":null},"y2":{"datum":1}}},
 {"width":50,"height":1,"data":{"values":[]},"mark":"text"},
 {"width":149,"height":137,"view":{"stroke":"#bdbdbd"},"layer":[
  {"data":{"name":"bands"},"transform":[{"filter":"datum.p==3"}],"mark":{"type":"area","opacity":0.045,"clip":true},"encoding":{"x":{"field":"x","type":"quantitative","title":null,"scale":{"type":"log","domain":[0.01,10]},"axis":{"values":[0.01,0.1,1,10],"format":"~g"}},"y":{"field":"lo","type":"quantitative","title":null,"scale":{"domain":[0.9946,1.0255],"nice":false,"zero":false},"axis":{"values":[1,1.01,1.02],"format":".2f"}},"y2":{"field":"hi"},"fill":{"field":"g","type":"nominal","scale":{"domain":["RCS*","RCS","RRT","AO-RRT"],"range":["#1f77b4","#ff7f0e","#2ca02c","#d62728"]},"legend":null}}},
  {"data":{"name":"lines"},"transform":[{"filter":"datum.p==3"}],"mark":{"type":"line","strokeWidth":2,"clip":true},"encoding":{"x":{"field":"x","type":"quantitative","title":null},"y":{"field":"y","type":"quantitative","title":null},"color":{"field":"s","type":"nominal","scale":{"domain":["RCS*","RCS","RRT","AO-RRT"],"range":["#1f77b4","#ff7f0e","#2ca02c","#d62728"]},"legend":null}}}
 ]},
 {"width":39,"height":1,"data":{"values":[]},"mark":"text"},
 {"width":174,"height":137,"view":{"stroke":"#bdbdbd"},"layer":[
  {"data":{"name":"bands"},"transform":[{"filter":"datum.p==4"}],"mark":{"type":"area","opacity":0.045,"clip":true},"encoding":{"x":{"field":"x","type":"quantitative","title":null,"scale":{"type":"log","domain":[0.01,10]},"axis":{"values":[0.01,0.1,1,10],"format":"~g"}},"y":{"field":"lo","type":"quantitative","title":null,"scale":{"domain":[0.153,2.746],"nice":false,"zero":false},"axis":{"values":[1,2],"format":"d"}},"y2":{"field":"hi"},"fill":{"field":"g","type":"nominal","scale":{"domain":["RCS*","RCS","RRT","AO-RRT"],"range":["#1f77b4","#ff7f0e","#2ca02c","#d62728"]},"legend":null}}},
  {"data":{"name":"lines"},"transform":[{"filter":"datum.p==4"}],"mark":{"type":"line","strokeWidth":2,"clip":true},"encoding":{"x":{"field":"x","type":"quantitative","title":null},"y":{"field":"y","type":"quantitative","title":null},"color":{"field":"s","type":"nominal","scale":{"domain":["RCS*","RCS","RRT","AO-RRT"],"range":["#1f77b4","#ff7f0e","#2ca02c","#d62728"]},"legend":null}}}
 ]},
 {"width":58,"height":1,"data":{"values":[]},"mark":"text"},
 {"width":130,"height":130,"data":{"name":"legend"},"layer":[
  {"mark":{"type":"rule","strokeWidth":2.5},"encoding":{"x":{"datum":0.0154,"type":"quantitative","scale":{"domain":[0,1],"nice":false,"zero":false},"axis":null},"x2":{"datum":0.2846},"y":{"field":"s","type":"nominal","scale":{"type":"point","domain":["RCS*","RCS","RRT","AO-RRT"],"range":[38,114],"padding":0},"axis":null},"color":{"field":"s","type":"nominal","scale":{"domain":["RCS*","RCS","RRT","AO-RRT"],"range":["#1f77b4","#ff7f0e","#2ca02c","#d62728"]},"legend":null}}},
  {"mark":{"type":"text","align":"left","font":"Liberation Sans","fontSize":17,"color":"black"},"encoding":{"x":{"datum":0.4,"type":"quantitative"},"y":{"field":"s","type":"nominal"},"text":{"field":"s","type":"nominal"}}}
 ]}
],"spacing":0,"bounds":"flush"},
{"hconcat":[
 {"width":482,"height":26,"layer":[
  {"data":{"values":[{}]},"mark":{"type":"rule","opacity":0},"encoding":{"x":{"datum":0,"type":"quantitative","scale":{"domain":[0,1],"nice":false,"zero":false},"axis":null},"y":{"datum":0,"type":"quantitative","scale":{"domain":[0,1],"nice":false,"zero":false},"axis":null},"y2":{"datum":1}}},
  {"data":{"values":[{}]},"mark":{"type":"rule","color":"black","strokeWidth":3},"encoding":{"x":{"datum":0.0249,"type":"quantitative"},"x2":{"datum":1},"y":{"datum":0.5,"type":"quantitative"}}}
 ]},
 {"width":1,"height":26,"data":{"values":[{}]},"mark":{"type":"rule","color":"black","strokeWidth":3},"encoding":{"y":{"datum":0,"type":"quantitative","scale":{"domain":[0,1],"nice":false},"axis":null},"y2":{"datum":1}}},
 {"width":407,"height":26,"data":{"values":[{}]},"mark":{"type":"rule","color":"black","strokeWidth":3},"encoding":{"x":{"datum":0,"type":"quantitative","scale":{"domain":[0,1],"nice":false,"zero":false},"axis":null},"x2":{"datum":1},"y":{"datum":0.5,"type":"quantitative","scale":{"domain":[0,1],"nice":false,"zero":false},"axis":null}}}
],"spacing":0,"bounds":"flush"},
{"hconcat":[
 {"width":113,"height":164,"layer":[
  {"data":{"values":[{}]},"mark":{"type":"rule","opacity":0},"encoding":{"x":{"datum":0,"type":"quantitative","scale":{"domain":[0,1]},"axis":null},"y":{"datum":0,"type":"quantitative","scale":{"domain":[0,1]},"axis":null},"y2":{"datum":1}}},
  {"data":{"values":[{"t":["κₘₐₓ =","50⁻¹"]}]},"mark":{"type":"text","font":"Liberation Serif","fontSize":20,"lineHeight":21,"dx":-19,"dy":-3},"encoding":{"text":{"field":"t","type":"nominal"}}}
 ]},
 {"width":149,"height":138,"view":{"stroke":"#bdbdbd"},"layer":[
  {"data":{"name":"bands"},"transform":[{"filter":"datum.p==5"}],"mark":{"type":"area","opacity":0.045,"clip":true},"encoding":{"x":{"field":"x","type":"quantitative","title":null,"scale":{"type":"log","domain":[0.01,10]},"axis":{"values":[0.01,0.1,1,10],"format":"~g"}},"y":{"field":"lo","type":"quantitative","title":null,"scale":{"domain":[0.986,1.06],"nice":false,"zero":false},"axis":{"values":[1,1.02,1.04],"format":".2f"}},"y2":{"field":"hi"},"fill":{"field":"g","type":"nominal","scale":{"domain":["RCS*","RCS","RRT","AO-RRT"],"range":["#1f77b4","#ff7f0e","#2ca02c","#d62728"]},"legend":null}}},
  {"data":{"name":"lines"},"transform":[{"filter":"datum.p==5"}],"mark":{"type":"line","strokeWidth":2,"clip":true},"encoding":{"x":{"field":"x","type":"quantitative","title":null},"y":{"field":"y","type":"quantitative","title":null},"color":{"field":"s","type":"nominal","scale":{"domain":["RCS*","RCS","RRT","AO-RRT"],"range":["#1f77b4","#ff7f0e","#2ca02c","#d62728"]},"legend":null}}}
 ]},
 {"width":56,"height":1,"data":{"values":[]},"mark":"text"},
 {"width":149,"height":138,"view":{"stroke":"#bdbdbd"},"layer":[
  {"data":{"name":"bands"},"transform":[{"filter":"datum.p==6"}],"mark":{"type":"area","opacity":0.045,"clip":true},"encoding":{"x":{"field":"x","type":"quantitative","title":null,"scale":{"type":"log","domain":[0.01,10]},"axis":{"values":[0.01,0.1,1,10],"format":"~g"}},"y":{"field":"lo","type":"quantitative","title":null,"scale":{"domain":[0.656,1.623],"nice":false,"zero":false},"axis":{"values":[0.75,1.0,1.25,1.5],"format":".2f"}},"y2":{"field":"hi"},"fill":{"field":"g","type":"nominal","scale":{"domain":["RCS*","RCS","RRT","AO-RRT"],"range":["#1f77b4","#ff7f0e","#2ca02c","#d62728"]},"legend":null}}},
  {"data":{"name":"lines"},"transform":[{"filter":"datum.p==6"}],"mark":{"type":"line","strokeWidth":2,"clip":true},"encoding":{"x":{"field":"x","type":"quantitative","title":null},"y":{"field":"y","type":"quantitative","title":null},"color":{"field":"s","type":"nominal","scale":{"domain":["RCS*","RCS","RRT","AO-RRT"],"range":["#1f77b4","#ff7f0e","#2ca02c","#d62728"]},"legend":null}}}
 ]},
 {"width":15,"height":1,"data":{"values":[]},"mark":"text"},
 {"width":1,"height":164,"data":{"values":[{}]},"mark":{"type":"rule","color":"black","strokeWidth":3},"encoding":{"y":{"datum":0,"type":"quantitative","scale":{"domain":[0,1],"nice":false},"axis":null},"y2":{"datum":1}}},
 {"width":50,"height":1,"data":{"values":[]},"mark":"text"},
 {"width":149,"height":138,"view":{"stroke":"#bdbdbd"},"layer":[
  {"data":{"name":"bands"},"transform":[{"filter":"datum.p==7"}],"mark":{"type":"area","opacity":0.045,"clip":true},"encoding":{"x":{"field":"x","type":"quantitative","title":null,"scale":{"type":"log","domain":[0.01,10]},"axis":{"values":[0.01,0.1,1,10],"format":"~g"}},"y":{"field":"lo","type":"quantitative","title":null,"scale":{"domain":[0.9775,1.0497],"nice":false,"zero":false},"axis":{"values":[0.98,1,1.02,1.04],"format":".2f"}},"y2":{"field":"hi"},"fill":{"field":"g","type":"nominal","scale":{"domain":["RCS*","RCS","RRT","AO-RRT"],"range":["#1f77b4","#ff7f0e","#2ca02c","#d62728"]},"legend":null}}},
  {"data":{"name":"lines"},"transform":[{"filter":"datum.p==7"}],"mark":{"type":"line","strokeWidth":2,"clip":true},"encoding":{"x":{"field":"x","type":"quantitative","title":null},"y":{"field":"y","type":"quantitative","title":null},"color":{"field":"s","type":"nominal","scale":{"domain":["RCS*","RCS","RRT","AO-RRT"],"range":["#1f77b4","#ff7f0e","#2ca02c","#d62728"]},"legend":null}}}
 ]},
 {"width":39,"height":1,"data":{"values":[]},"mark":"text"},
 {"width":174,"height":138,"view":{"stroke":"#bdbdbd"},"layer":[
  {"data":{"name":"bands"},"transform":[{"filter":"datum.p==8"}],"mark":{"type":"area","opacity":0.045,"clip":true},"encoding":{"x":{"field":"x","type":"quantitative","title":null,"scale":{"type":"log","domain":[0.01,10]},"axis":{"values":[0.01,0.1,1,10],"format":"~g"}},"y":{"field":"lo","type":"quantitative","title":null,"scale":{"domain":[0.37,3.08],"nice":false,"zero":false},"axis":{"values":[1,2,3],"format":"d"}},"y2":{"field":"hi"},"fill":{"field":"g","type":"nominal","scale":{"domain":["RCS*","RCS","RRT","AO-RRT"],"range":["#1f77b4","#ff7f0e","#2ca02c","#d62728"]},"legend":null}}},
  {"data":{"name":"lines"},"transform":[{"filter":"datum.p==8"}],"mark":{"type":"line","strokeWidth":2,"clip":true},"encoding":{"x":{"field":"x","type":"quantitative","title":null},"y":{"field":"y","type":"quantitative","title":null},"color":{"field":"s","type":"nominal","scale":{"domain":["RCS*","RCS","RRT","AO-RRT"],"range":["#1f77b4","#ff7f0e","#2ca02c","#d62728"]},"legend":null}}}
 ]},
 {"width":55,"height":1,"data":{"values":[]},"mark":"text"},
 {"width":173,"height":122,"view":{"stroke":"#bdbdbd"},"data":{"name":"cdf"},"mark":{"type":"line","strokeWidth":2,"clip":true},"encoding":{
  "x":{"field":"x","type":"quantitative","title":"RCS Final relative cost","scale":{"domain":[0.398,2.255],"nice":false,"zero":false},"axis":{"values":[1,2],"format":"d","labelFontSize":15,"titleFont":"DejaVu Sans","titleFontSize":16,"titleFontWeight":"normal","titleColor":"#1a1a1a","titlePadding":2}},
  "y":{"field":"y","type":"quantitative","title":"CDF","scale":{"domain":[-0.039,1.047],"nice":false,"zero":false},"axis":{"values":[0,0.2,0.4,0.6,0.8,1],"labelExpr":"datum.value == 0 ? '0' : format(datum.value, '.1f')","labelFontSize":15,"titleFont":"DejaVu Sans","titleFontSize":16,"titleFontWeight":"normal","titleColor":"#1a1a1a","titlePadding":4}},
  "stroke":{"field":"s","type":"nominal","scale":{"domain":["Lung (100⁻¹)","Lung (50⁻¹)","Liver (100⁻¹)","Liver (50⁻¹)"],"range":["#1f77b4","#ff7f0e","#2ca02c","#d62728"]},"legend":{"orient":"bottom-right","offset":4,"title":null,"symbolType":"M-2,0H2","symbolSize":100,"symbolStrokeWidth":2,"labelFont":"DejaVu Sans","labelFontSize":10,"labelColor":"#222222","labelOffset":13,"rowPadding":6.5,"strokeColor":"#cccccc","fillColor":"white","padding":7,"cornerRadius":3}}
 }}
],"spacing":0,"bounds":"flush","resolve":{"scale":{"stroke":"independent"},"legend":{"stroke":"independent"}}},
{"width":1090,"height":91,"data":{"name":"table"},"transform":[{"calculate":"(datum.c0+datum.c1)/2","as":"cx"},{"calculate":"(datum.r0+datum.r1)/2","as":"cy"}],"layer":[
 {"mark":{"type":"rule","opacity":0},"encoding":{"x":{"datum":-1,"type":"quantitative","scale":{"domain":[-1,0,1,2,3,4,5,6],"range":[0,195,233,271,477,680,885,1090],"nice":false,"zero":false},"axis":null},"y":{"datum":-1,"type":"quantitative","scale":{"domain":[-1,0,1,2,3],"range":[0,15,40,66,91],"nice":false,"zero":false},"axis":null},"y2":{"datum":0}}},
 {"transform":[{"filter":"datum.k != 'L'"}],"mark":{"type":"rect","fill":"white","stroke":"black","strokeWidth":1.5},"encoding":{"x":{"field":"c0","type":"quantitative"},"x2":{"field":"c1"},"y":{"field":"r0","type":"quantitative"},"y2":{"field":"r1"}}},
 {"transform":[{"filter":"datum.k == 's'"}],"mark":{"type":"text","font":"Liberation Sans","fontSize":16,"color":"black"},"encoding":{"x":{"field":"cx","type":"quantitative"},"y":{"field":"cy","type":"quantitative"},"text":{"field":"t","type":"nominal"}}},
 {"transform":[{"filter":"datum.k == 'k'"}],"mark":{"type":"text","font":"Liberation Serif","fontSize":16,"color":"black"},"encoding":{"x":{"field":"cx","type":"quantitative"},"y":{"field":"cy","type":"quantitative"},"text":{"field":"t","type":"nominal"}}},
 {"transform":[{"filter":"datum.k == 'n'"}],"mark":{"type":"text","font":"Liberation Serif","fontSize":13,"color":"black"},"encoding":{"x":{"field":"cx","type":"quantitative"},"y":{"field":"cy","type":"quantitative"},"text":{"field":"t","type":"nominal"}}},
 {"transform":[{"filter":"datum.k == 'L'"}],"mark":{"type":"text","font":"Liberation Sans","fontSize":20,"lineHeight":25,"color":"black"},"encoding":{"x":{"field":"cx","type":"quantitative"},"y":{"field":"cy","type":"quantitative"},"text":{"field":"t","type":"nominal"}}}
]}
]
}
